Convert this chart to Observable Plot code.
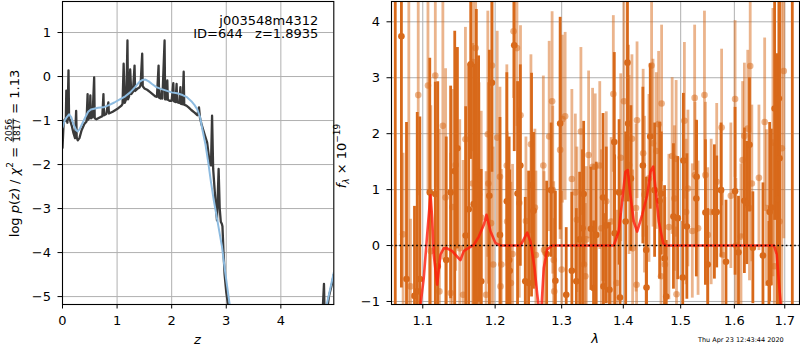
<!DOCTYPE html>
<html><head><meta charset="utf-8">
<script src="https://cdn.jsdelivr.net/npm/d3@7"></script>
<script src="https://cdn.jsdelivr.net/npm/@observablehq/plot@0.6"></script>
<style>
body{margin:0;background:#fff;}
#fig{position:relative;width:800px;height:350px;font-family:"DejaVu Sans",sans-serif;}
#fig svg{position:absolute;top:0;overflow:visible;}
</style></head><body><div id="fig"></div>
<script>
// ---------- left panel: log p(z) ----------
const zTicks = [0, 1, 2, 3, 4];
const logpTicks = [1, 0, -1, -2, -3, -4, -5];
const pzZ = [0.00,0.02,0.04,0.06,0.07,0.075,0.09,0.11,0.12,0.14,0.17,0.20,0.23,0.25,0.26,0.28,0.31,0.35,0.40,0.44,0.46,0.47,0.50,0.51,0.52,0.55,0.58,0.59,0.62,0.68,0.73,0.75,0.76,0.80,0.84,0.85,0.92,1.00,1.08,1.10,1.12,1.14,1.17,1.19,1.20,1.22,1.24,1.26,1.29,1.32,1.33,1.37,1.41,1.43,1.46,1.47,1.50,1.55,1.60,1.65,1.70,1.73,1.76,1.77,1.80,1.82,1.83,1.87,1.88,1.90,1.92,1.93,1.96,2.00,2.03,2.04,2.07,2.09,2.10,2.14,2.16,2.17,2.20,2.22,2.23,2.27,2.31,2.36,2.42,2.47,2.50,2.52,2.55,2.60,2.65,2.70,2.72,2.74,2.76,2.80,2.83,2.86,2.88,2.90,2.92,2.93,2.95,2.97,3.00,3.03,3.06,3.12,3.30,4.60,4.74,4.77,4.79,4.80,4.84,4.88,4.93,4.97];
const pzLog = [-1.62,-1.07,-0.98,-1.00,-0.32,-0.95,-1.05,0.14,-0.95,-1.00,-1.12,-1.28,-1.40,-0.78,-1.38,-1.45,-1.40,-1.22,-1.08,-1.02,-0.40,-0.98,-0.92,-0.43,-0.95,-0.92,-0.02,-0.95,-0.97,-0.93,-0.90,-0.40,-0.88,-0.85,-0.59,-0.84,-0.80,-0.74,-0.66,-0.62,0.29,-0.60,-0.50,0.82,-0.52,-0.45,0.16,-0.40,-0.35,0.25,-0.33,-0.28,-0.25,-0.20,0.52,-0.22,-0.27,-0.30,-0.35,-0.40,-0.45,-0.46,0.25,-0.48,-0.50,-0.30,-0.50,0.82,-0.52,-0.52,-0.09,-0.53,-0.55,-0.55,-0.15,-0.56,-0.58,-0.17,-0.58,-0.60,-0.24,-0.62,-0.63,0.11,-0.64,-0.66,-0.70,-0.76,-0.82,-0.88,-0.70,-0.95,-1.10,-1.30,-1.50,-2.00,-2.02,-0.89,-2.10,-2.80,-3.27,-2.10,-3.00,-3.30,-3.35,-3.40,-4.00,-4.50,-4.90,-5.16,-5.40,-6.00,-7.00,-7.00,-5.40,-5.22,-4.71,-5.30,-5.40,-5.00,-4.75,-4.50];
const smoothZ = [0.00,0.04,0.08,0.12,0.16,0.20,0.25,0.28,0.32,0.37,0.42,0.47,0.52,0.58,0.65,0.75,0.85,0.95,1.05,1.15,1.24,1.33,1.40,1.46,1.52,1.58,1.64,1.72,1.80,1.90,2.00,2.10,2.20,2.28,2.36,2.42,2.47,2.52,2.57,2.62,2.67,2.72,2.77,2.82,2.87,2.92,2.97,3.02,3.07,3.15,3.30,4.60,4.75,4.84,4.90,4.97];
const smoothLog = [-1.16,-1.00,-0.92,-0.86,-0.92,-1.08,-1.22,-1.25,-1.18,-1.05,-0.92,-0.80,-0.75,-0.73,-0.71,-0.70,-0.65,-0.59,-0.52,-0.45,-0.36,-0.24,-0.13,-0.08,-0.07,-0.11,-0.17,-0.24,-0.28,-0.32,-0.36,-0.38,-0.42,-0.47,-0.56,-0.65,-0.75,-0.92,-1.25,-1.55,-1.95,-2.40,-2.80,-3.15,-3.50,-3.85,-4.35,-4.80,-5.25,-6.00,-7.00,-7.00,-5.60,-5.18,-4.85,-4.45];

// ---------- right panel: spectrum ----------
const lamTicks = [1.1, 1.2, 1.3, 1.4, 1.5, 1.6, 1.7];
const fluxTicks = [-1, 0, 1, 2, 3, 4];
const darkLam = [1.0642,1.0721,1.0787,1.0891,1.0927,1.0961,1.1093,1.1167,1.1200,1.1315,1.1375,1.1431,1.1468,1.1583,1.1625,1.1653,1.1695,1.1732,1.1764,1.1801,1.1917,1.1954,1.2070,1.2170,1.2204,1.2212,1.2279,1.2328,1.2369,1.2443,1.2493,1.2537,1.2567,1.2767,1.2836,1.2902,1.2976,1.3071,1.3160,1.3231,1.3284,1.3330,1.3348,1.3465,1.3508,1.3551,1.3663,1.3670,1.3716,1.3769,1.3849,1.3855,1.3929,1.3945,1.4040,1.4070,1.4081,1.4128,1.4333,1.4391,1.4396,1.4461,1.4537,1.4625,1.4654,1.4712,1.4742,1.4870,1.4947,1.5037,1.5049,1.5112,1.5285,1.5290,1.5453,1.5496,1.5621,1.5664,1.5746,1.5840,1.6014,1.6080,1.6194,1.6240,1.6294,1.6360,1.6560,1.6680,1.6694,1.6728,1.6794,1.6848,1.6880,1.6894,1.7155];
const darkFlux = [-1.50,3.74,-0.60,-0.90,-0.82,-0.60,0.95,0.92,-0.37,-0.26,0.95,1.33,1.74,0.18,0.65,3.24,0.74,1.32,1.19,-0.64,0.89,2.91,0.19,0.79,-0.26,-0.45,3.58,0.93,1.43,-0.64,-0.67,1.08,0.62,-0.15,0.99,-0.63,2.18,-0.88,-0.45,-0.64,0.11,0.31,0.92,0.30,-0.76,0.19,0.86,-0.73,0.36,-0.79,1.85,0.22,0.95,-0.93,0.43,3.27,2.18,1.20,1.43,-0.08,-0.75,1.95,0.99,0.80,0.93,-0.23,-0.91,0.52,0.49,-0.57,1.52,0.34,0.84,1.23,0.59,-0.34,0.60,0.60,0.99,-0.29,0.97,-0.12,0.80,0.76,1.80,-0.04,-0.18,-0.67,0.60,0.68,2.45,0.83,2.63,1.56,5.00];
const darkErr = [6.0,4.5,2.8,1.6,3.2,2.9,2.4,2.0,3.3,2.2,1.9,2.5,1.8,2.3,2.6,1.7,2.5,2.9,2.2,2.0,2.6,1.6,2.1,2.3,2.2,1.8,1.9,2.0,1.8,1.5,2.0,2.0,1.4,1.3,1.2,1.6,1.9,1.2,1.4,1.3,1.2,1.4,1.3,1.1,1.2,1.3,1.5,1.3,1.4,1.2,1.6,1.4,1.3,1.5,1.6,1.8,1.4,1.3,1.4,1.3,1.1,1.3,1.2,1.4,1.1,1.3,1.0,1.3,1.1,1.0,1.2,1.3,1.4,1.0,1.3,1.0,1.2,1.0,1.2,1.1,1.5,1.0,1.3,1.1,1.2,1.0,1.3,1.1,1.6,1.4,2.0,2.6,3.0,4.0,7.0];
const lightLam = [1.0743,1.0817,1.0839,1.0940,1.1069,1.1107,1.1167,1.1222,1.1269,1.1306,1.1375,1.1399,1.1444,1.1500,1.1547,1.1579,1.1680,1.1686,1.1722,1.1732,1.1764,1.1770,1.1801,1.1871,1.1895,1.1903,1.1940,1.1954,1.1972,1.2030,1.2070,1.2078,1.2090,1.2170,1.2175,1.2230,1.2254,1.2269,1.2319,1.2354,1.2372,1.2453,1.2528,1.2588,1.2603,1.2716,1.2727,1.2806,1.2851,1.2861,1.2876,1.2884,1.2976,1.3000,1.3011,1.3054,1.3160,1.3215,1.3240,1.3304,1.3352,1.3375,1.3391,1.3428,1.3492,1.3535,1.3609,1.3636,1.3716,1.3797,1.3833,1.3888,1.3957,1.4011,1.4098,1.4146,1.4158,1.4216,1.4225,1.4233,1.4338,1.4361,1.4439,1.4484,1.4509,1.4567,1.4607,1.4650,1.4660,1.4717,1.4789,1.4847,1.4888,1.4918,1.4925,1.5067,1.5099,1.5131,1.5211,1.5254,1.5260,1.5317,1.5435,1.5453,1.5496,1.5560,1.5664,1.5757,1.5776,1.5933,1.6014,1.6028,1.6128,1.6160,1.6194,1.6260,1.6294,1.6308,1.6340,1.6480,1.6594,1.6628,1.6760,1.6788,1.6894,1.6940,1.6980];
const lightFlux = [0.20,-1.50,-0.73,2.69,2.86,-0.10,3.04,-0.82,2.14,0.86,-0.85,0.69,1.44,-0.05,-0.88,1.90,1.11,3.28,3.53,-0.96,1.08,0.91,0.50,-0.88,1.99,1.11,0.40,3.22,-0.34,1.93,1.23,-0.73,-0.34,1.43,0.43,-0.67,-0.15,3.83,3.53,0.76,2.33,0.44,1.81,0.68,-0.17,1.43,-0.08,1.95,2.58,0.99,-0.26,-0.82,1.71,-0.43,2.26,2.31,1.19,0.95,0.46,2.04,-0.34,-0.55,0.11,1.62,1.41,1.41,1.43,0.31,0.79,0.43,2.71,-0.67,1.57,2.58,1.44,1.91,-0.05,0.67,-0.70,2.24,1.65,0.91,1.20,3.22,1.83,1.69,2.17,-0.55,2.54,-0.34,0.33,1.60,0.84,1.55,-0.87,2.23,0.60,1.02,0.26,2.64,1.26,0.31,2.69,1.26,0.19,0.60,1.14,2.11,-0.17,0.89,2.62,0.00,0.16,1.53,1.96,2.09,0.67,3.21,1.11,1.21,2.21,0.67,1.84,-0.37,0.43,1.74,3.12];
const lightErr = [1.45,6.0,1.2,1.8,1.9,2.6,2.0,2.9,2.4,2.3,2.5,2.1,1.9,2.3,2.4,2.0,2.5,1.6,1.3,2.6,2.2,2.0,1.9,2.2,2.2,1.8,2.4,1.5,2.1,1.9,1.6,2.0,1.7,1.8,1.6,1.8,1.6,1.2,1.4,1.7,1.6,1.5,1.6,1.4,1.5,1.6,1.4,1.7,1.6,1.5,1.4,1.3,1.6,1.4,1.5,1.5,1.6,1.4,1.3,1.5,1.2,1.3,1.3,1.5,1.4,1.3,1.5,1.4,1.6,1.5,1.4,1.3,1.5,1.8,1.6,1.5,1.4,1.5,1.3,1.4,1.5,1.4,1.5,1.3,1.5,1.4,1.3,1.3,1.4,1.2,1.3,1.4,1.3,1.4,1.2,1.4,1.3,1.4,1.2,1.3,1.3,1.2,1.5,1.3,1.2,1.3,1.4,1.4,1.2,1.3,1.4,1.2,1.3,1.4,1.3,1.4,1.3,1.2,1.4,1.3,1.5,1.4,2.4,2.2,3.5,3.5,3.0];
const modelLam = [1.0940,1.0970,1.1013,1.1058,1.1102,1.1125,1.1146,1.1192,1.1237,1.1281,1.1328,1.1396,1.1465,1.1510,1.1556,1.1626,1.1696,1.1767,1.1838,1.1876,1.1934,1.2006,1.2078,1.2372,1.2472,1.2522,1.2582,1.2623,1.2647,1.2688,1.2723,1.2775,1.2853,1.3840,1.3923,1.3980,1.4036,1.4075,1.4120,1.4177,1.4235,1.4321,1.4408,1.4465,1.4512,1.4553,1.4610,1.4688,1.4729,1.6783,1.6837,1.6884,1.6919,1.6940];
const modelFlux = [-1.60,-1.06,-0.58,0.19,0.90,0.49,-0.16,-0.70,-0.16,-0.05,-0.05,-0.10,-0.20,-0.26,-0.10,-0.04,0.01,0.16,0.37,0.55,0.25,0.04,0.00,0.00,0.23,0.07,-0.40,-0.87,-1.10,-1.10,-0.40,-0.07,0.00,0.00,0.25,0.79,1.32,1.35,0.90,0.43,0.25,0.55,0.90,1.32,1.41,1.02,0.43,0.04,0.00,0.00,-0.16,-0.70,-1.06,-1.60];

const ORANGE = "#d8691a";
const GRID = {stroke: "#b0b0b0", strokeOpacity: 1, strokeWidth: 1};
const fmt = d => (d < 0 ? "\u2212" + Math.abs(d) : String(d));
const style = {fontFamily: "DejaVu Sans", fontSize: "13px", background: "transparent", overflow: "visible"};
const fig = document.getElementById("fig");

const left = Plot.plot({
  width: 340, height: 350,
  marginLeft: 62, marginRight: 6.7, marginTop: 1, marginBottom: 46,
  style,
  x: {domain: [0, 4.97]},
  y: {domain: [-5.18, 1.705]},
  marks: [
    Plot.gridX(zTicks, GRID),
    Plot.gridY(logpTicks, GRID),
    Plot.line(pzZ, {x: pzZ, y: pzLog, stroke: "#3a3a3a", strokeWidth: 2.3, clip: true}),
    Plot.line(smoothZ, {x: smoothZ, y: smoothLog, stroke: "#8dbbe0", strokeWidth: 2, clip: true}),
    Plot.frame({stroke: "black", strokeWidth: 1.1}),
    Plot.axisX(zTicks, {tickSize: 4.5, tickPadding: 7, tickFormat: fmt, label: null}),
    Plot.axisY(logpTicks, {tickSize: 4.5, tickPadding: 7, tickFormat: fmt, label: null})
  ]
});
left.style.left = "0px";
fig.appendChild(left);

const right = Plot.plot({
  width: 460, height: 350,
  marginLeft: 51, marginRight: 1, marginTop: 1, marginBottom: 46,
  style,
  x: {type: "log", domain: [1.0594, 1.7304]},
  y: {domain: [-1.054, 4.363]},
  marks: [
    Plot.gridX(lamTicks, GRID),
    Plot.gridY(fluxTicks, GRID),
    Plot.ruleX(lightLam, {x: lightLam, y1: lightFlux.map((f, i) => f - lightErr[i]), y2: lightFlux.map((f, i) => f + lightErr[i]), stroke: ORANGE, strokeOpacity: 0.5, strokeWidth: 2.8, clip: true}),
    Plot.dot(lightLam, {x: lightLam, y: lightFlux, r: 3.3, fill: ORANGE, fillOpacity: 0.5, stroke: "none", clip: true}),
    Plot.ruleX(darkLam, {x: darkLam, y1: darkFlux.map((f, i) => f - darkErr[i]), y2: darkFlux.map((f, i) => f + darkErr[i]), stroke: ORANGE, strokeWidth: 2.8, clip: true}),
    Plot.dot(darkLam, {x: darkLam, y: darkFlux, r: 3.3, fill: ORANGE, stroke: "none", clip: true}),
    Plot.line(modelLam, {x: modelLam, y: modelFlux, stroke: "#ff1a0a", strokeOpacity: 0.8, strokeWidth: 2.6, clip: true}),
    Plot.ruleY([0], {stroke: "black", strokeWidth: 1.6, strokeDasharray: "1.6,2.6"}),
    Plot.frame({stroke: "black", strokeWidth: 1.1}),
    Plot.axisX(lamTicks, {tickSize: 4.5, tickPadding: 7, tickFormat: d => d.toFixed(1), label: null}),
    Plot.axisY(fluxTicks, {tickSize: 4.5, tickPadding: 7, tickFormat: fmt, label: null})
  ]
});
right.style.left = "340px";
fig.appendChild(right);

// rotated math-style label builder (real text)
function rotLabel(svg, bx, cy, parts) {
  const g = d3.select(svg).append("g").attr("transform", `translate(${bx},${cy}) rotate(-90)`);
  const inner = g.append("g").attr("fill", "black").attr("text-anchor", "start");
  let cx = 0;
  for (const p of parts) {
    if (p.frac) {
      const n = inner.append("text").attr("font-size", p.size).attr("y", p.ny).text(p.frac[0]);
      const d = inner.append("text").attr("font-size", p.size).attr("y", p.dny).text(p.frac[1]);
      const wn = n.node().getComputedTextLength(), wd = d.node().getComputedTextLength();
      const w = Math.max(wn, wd) + 2;
      n.attr("x", cx + (w - wn) / 2); d.attr("x", cx + (w - wd) / 2);
      inner.append("line").attr("x1", cx + 0.5).attr("x2", cx + w - 0.5).attr("y1", p.ly).attr("y2", p.ly).attr("stroke", "black").attr("stroke-width", 0.8);
      cx += w;
    } else {
      const t = inner.append("text").attr("x", cx).attr("y", p.dy || 0).attr("font-size", p.size || 13)
        .attr("font-style", p.italic ? "italic" : null).text(p.t);
      cx += t.node().getComputedTextLength();
    }
  }
  inner.attr("transform", `translate(${-cx / 2},0)`);
}

rotLabel(left, 18.5, 153.5, [
  {t: "log\u00a0"}, {t: "p", italic: true}, {t: "("}, {t: "z", italic: true}, {t: ")\u00a0/\u00a0"},
  {t: "\u03c7", italic: true}, {t: "2", size: 9, dy: -5.5}, {t: "\u00a0=\u00a0"},
  {frac: ["2056", "1817"], size: 9, ny: -7, dny: 1.8, ly: -5.4},
  {t: "\u00a0=\u00a01.13"}
]);
rotLabel(right, 5.5, 156, [
  {t: "f", italic: true}, {t: "\u03bb", italic: true, size: 9, dy: 3}, {t: "\u00a0\u00d7\u00a010"},
  {t: "\u221219", size: 9, dy: -5.5}
]);

// axis labels and annotations
const L = d3.select(left);
L.append("text").attr("x", 197.5).attr("y", 344).attr("text-anchor", "middle").attr("font-style", "italic").attr("fill", "black").text("z");
L.append("text").attr("x", 318.3).attr("y", 24.5).attr("text-anchor", "end").attr("fill", "black").text("j003548m4312");
L.append("text").attr("x", 318.3).attr("y", 38).attr("text-anchor", "end").attr("fill", "black").text("ID=644\u00a0\u00a0\u00a0z=1.8935");
const R = d3.select(right);
R.append("text").attr("x", 255).attr("y", 343).attr("text-anchor", "middle").attr("font-style", "italic").attr("fill", "black").text("\u03bb");
R.append("text").attr("x", 358).attr("y", 341.5).attr("font-size", 6.5).attr("text-anchor", "start").attr("fill", "black").text("Thu Apr 23 12:43:44 2020");
</script></body></html>
